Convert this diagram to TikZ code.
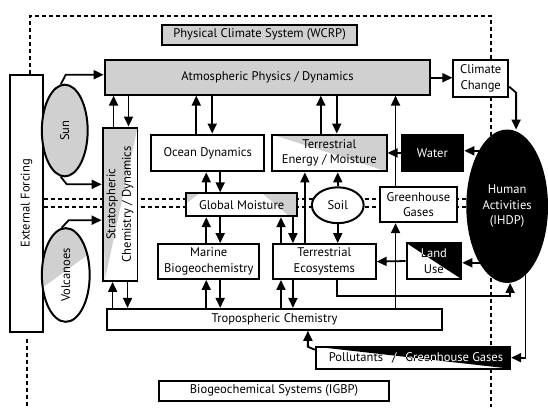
\documentclass[tikz,border=0pt]{standalone}
\usepackage{fontspec}
\setmainfont{PT Sans}
\usetikzlibrary{arrows.meta,calc,shapes.geometric,backgrounds}
\definecolor{lgray}{RGB}{208,208,208}
\begin{document}
\begin{tikzpicture}[x=1pt,y=-1pt,
  box/.style={draw, line width=2pt, fill=white, inner sep=0pt, align=center, font=\fontsize{12.6}{15.5}\selectfont},
  oval/.style={box, ellipse},
  arr/.style={line width=1.8pt, -{Triangle[length=10pt,width=9pt]}},
  dsh/.style={line width=1.8pt, dash pattern=on 4pt off 3pt},
]
% ---------- boxes ----------
\node[box, fill=lgray, minimum width=195, minimum height=20] (pcs) at (260.5,35) {Physical Climate System (WCRP)};
\node[box, fill=lgray, minimum width=327, minimum height=35] (atm) at (268.5,77.5) {Atmospheric Physics / Dynamics};
\node[box, minimum width=55, minimum height=37] (cc) at (482.5,78.5) {Climate\\Change};
\node[box, minimum width=33, minimum height=258] (ext) at (26.5,204) {\rotatebox{90}{External Forcing}};
\node[oval, fill=lgray, minimum width=46, minimum height=92] (sun) at (65,131) {\rotatebox{90}{Sun}};
\node[oval, minimum width=48, minimum height=94, path picture={
  \fill[lgray] (path picture bounding box.north west) -- (path picture bounding box.north east)
   -- ($(path picture bounding box.north east)!0.27!(path picture bounding box.south east)$)
   -- ($(path picture bounding box.north west)!0.64!(path picture bounding box.south west)$) -- cycle;}]
  (volc) at (66,276) {\rotatebox{90}{Volcanoes}};
\node[box, minimum width=35, minimum height=154, path picture={
  \fill[lgray] (path picture bounding box.north west) -- (path picture bounding box.north east)
   -- ([xshift=2pt]path picture bounding box.south west) -- cycle;}]
  (strat) at (120.5,205) {\rotatebox{90}{\begin{tabular}{@{}c@{}}Stratospheric\\Chemistry / Dynamics\end{tabular}}};
\node[box, minimum width=113, minimum height=37] (ocean) at (208.5,153.5) {Ocean Dynamics};
\node[box, minimum width=115, minimum height=37, path picture={
  \fill[lgray] (path picture bounding box.north west) -- (path picture bounding box.north east)
   -- (path picture bounding box.south east) -- cycle;}]
  (tem) at (330.5,153.5) {Terrestrial\\Energy / Moisture};
\node[box, fill=black, text=white, minimum width=62, minimum height=37] (water) at (434,153.5) {Water};
\node[box, fill=lgray, minimum width=111, minimum height=23, path picture={
  \fill[white] ([xshift=13pt]path picture bounding box.north west) -- ([xshift=76pt]path picture bounding box.north west)
   -- ([xshift=103pt]path picture bounding box.south west) -- (path picture bounding box.south west)
   -- ($(path picture bounding box.north west)!0.45!(path picture bounding box.south west)$) -- cycle;}]
  (gm) at (242.5,205.5) {Global Moisture};
\node[oval, minimum width=52, minimum height=36] (soil) at (339,206) {Soil};
\node[box, minimum width=78, minimum height=35] (ghg) at (420,205.5) {Greenhouse\\Gases};
\node[oval, fill=black, text=white, minimum width=80, minimum height=152] (hum) at (509,207) {Human\\Activities\\(IHDP)};
\node[box, minimum width=101, minimum height=35] (marine) at (209.5,262.5) {Marine\\Biogeochemistry};
\node[box, minimum width=103, minimum height=35] (te) at (325.5,262.5) {Terrestrial\\Ecosystems};
\node[box, minimum width=55, minimum height=36, path picture={
  \fill[black] (path picture bounding box.north west) -- (path picture bounding box.north east)
   -- (path picture bounding box.south east) -- cycle;}]
  (land) at (435.5,262) {Land\\Use};
\begin{scope}
  \clip (land.north west) -- (land.north east) -- (land.south east) -- cycle;
  \node[box, draw=none, fill=none, text=white, minimum width=55, minimum height=36] at (land.center) {Land\\Use};
\end{scope}
\node[box, minimum width=337, minimum height=21] (tropo) at (275.5,320.5) {Tropospheric Chemistry};
\node[box, minimum width=195, minimum height=22, path picture={
  \fill[black] (path picture bounding box.north west) -- (path picture bounding box.north east)
   -- (path picture bounding box.south east) -- cycle;}]
  (poll) at (414.5,359) {\hspace*{6pt}Pollutants\hspace{9pt}/\hspace{9pt}Greenhouse Gases};
\begin{scope}
  \clip (poll.north west) -- (poll.north east) -- (poll.south east) -- cycle;
  \node[box, draw=none, fill=none, text=white, minimum width=195, minimum height=22] at (poll.center) {\hspace*{6pt}Pollutants\hspace{9pt}/\hspace{9pt}Greenhouse Gases};
\end{scope}
\node[box, minimum width=230, minimum height=20] (bgs) at (275,392) {Biogeochemical Systems (IGBP)};

% ---------- dashed boundaries (behind) ----------
\begin{pgfonlayer}{background}
  \fill[white] (0,0) rectangle (548,408);
  \coordinate (ftl) at (30,16);
  \coordinate (ftr) at (493,16);
  \coordinate (fbr) at (493,408);
  \coordinate (fbl) at (27,408);
  \draw[dsh] (30,0 |- ext.north) -- (ftl) -- (ftr) -- (fbr);
  \draw[dsh] (27,340) -- (fbl);
  \draw[dsh] (ext.east |- 0,200) -- (hum.west |- 0,200);
  \draw[dsh] (ext.east |- 0,208) -- (hum.west |- 0,208);
\end{pgfonlayer}
\path[use as bounding box] (0,0) rectangle (548,408);

% ---------- connectors ----------
\draw[arr] (sun.95) -- (66,75) -- (atm.west |- 0,75);
\draw[arr] (sun.265) -- (67,185) -- (strat.west |- 0,185);
\draw[arr] (volc.95) -- (69,221) -- (strat.west |- 0,221);
\draw[arr] (114,0 |- strat.north) -- (114,0 |- atm.south);
\draw[arr] (129,0 |- atm.south) -- (129,0 |- strat.north);
\draw[arr] (197,0 |- ocean.north) -- (197,0 |- atm.south);
\draw[arr] (213,0 |- atm.south) -- (213,0 |- ocean.north);
\draw[arr] (322,0 |- tem.north) -- (322,0 |- atm.south);
\draw[arr] (338,0 |- atm.south) -- (338,0 |- tem.north);
\draw[arr] (397,0 |- tropo.north) -- (397,0 |- ghg.south);
\draw[arr] (397,0 |- ghg.north) -- (397,0 |- atm.south);
\draw[arr] (atm.east |- 0,78) -- (cc.west |- 0,78);
\draw[arr] (cc.east |- 0,87) -- (518,93) -- (518,0 |- hum.north);
\draw[arr] (hum.117) -- (water.east |- hum.117);
\draw[arr] (water.west) -- (tem.east);
\draw[arr] (hum.244) -- (land.east |- hum.244);
\draw[arr] (land.west) -- (te.east);
\draw[arr] (338,0 |- te.south) -- (338,297) -- (512,297) -- (512,0 |- hum.south);
\draw[arr] (hum.285) -- (hum.285 |- poll.east) -- (poll.east);
\draw[arr] ($(poll.north west)+(0,4)$) -- (309,348) -- (309,0 |- tropo.south);
\draw[arr] (207,0 |- gm.north) -- (207,0 |- ocean.south);
\draw[arr] (221,0 |- ocean.south) -- (221,0 |- gm.north);
\draw[arr] (207,0 |- marine.north) -- (207,0 |- gm.south);
\draw[arr] (221,0 |- gm.south) -- (221,0 |- marine.north);
\draw[arr] (207,0 |- tropo.north) -- (207,0 |- marine.south);
\draw[arr] (221,0 |- marine.south) -- (221,0 |- tropo.north);
\draw[arr] (282,0 |- te.north) -- (282,0 |- gm.south);
\draw[arr] (294,0 |- gm.south) -- (294,0 |- te.north);
\draw[arr] (282,0 |- tropo.north) -- (282,0 |- te.south);
\draw[arr] (294,0 |- te.south) -- (294,0 |- tropo.north);
\draw[arr] (113,0 |- tropo.north) -- (113,0 |- strat.south);
\draw[arr] (128,0 |- strat.south) -- (128,0 |- tropo.north);
\draw[arr] (306,0 |- te.north) -- (306,0 |- tem.south);
\draw[arr] (soil.north) -- (soil.north |- tem.south);
\draw[arr] (soil.south) -- (soil.south |- te.north);
\end{tikzpicture}
\end{document}
